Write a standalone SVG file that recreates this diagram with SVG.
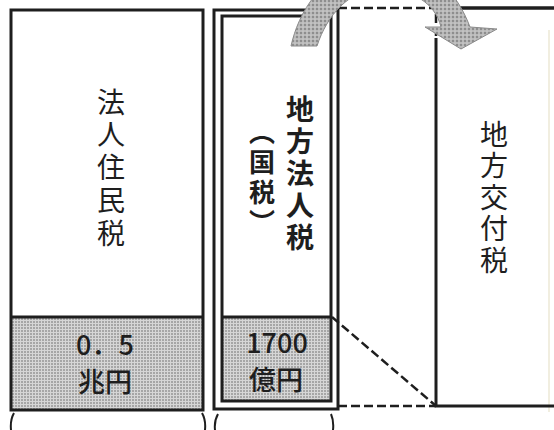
<svg xmlns="http://www.w3.org/2000/svg" width="554" height="430" viewBox="0 0 554 430">
<defs>
<pattern id="dots" width="3" height="3" patternUnits="userSpaceOnUse">
<rect width="3" height="3" fill="#d6d6d6"/>
<circle cx="1" cy="1" r="0.8" fill="#6a6a6a"/>
</pattern>
<pattern id="arrowTex" width="4" height="4" patternUnits="userSpaceOnUse">
<rect width="4" height="4" fill="#b8b8b8"/>
<circle cx="1" cy="1" r="0.9" fill="#7a7a7a"/>
<circle cx="3" cy="3" r="0.6" fill="#e4e4e4"/>
</pattern>
<style>
.box{fill:none;stroke:#1e1e1e;stroke-width:3}
.gray{fill:url(#dots);stroke:none}
.dash{fill:none;stroke:#1e1e1e;stroke-width:2.5;stroke-dasharray:9 4}
.brk{fill:none;stroke:#1e1e1e;stroke-width:2}
.t{font-family:"Noto Sans CJK JP","Noto Sans",sans-serif;font-size:28px;fill:#1e1e1e;text-anchor:middle;dominant-baseline:central}
.v{font-family:"Noto Sans CJK JP","Noto Sans",sans-serif;font-size:28px;fill:#1e1e1e;writing-mode:vertical-rl;text-anchor:start}
.b{font-weight:bold}
.g{font-size:27px;font-weight:500}
</style>
</defs>
<rect width="554" height="430" fill="#ffffff"/>
<line x1="549" y1="30" x2="549" y2="412" stroke="#ece8d6" stroke-width="1.5"/>

<g id="node-houjin-juuminzei">
<rect class="gray" x="11" y="317" width="192" height="93"/>
<line class="box" x1="11" y1="317" x2="203" y2="317"/>
<rect class="box" x="11" y="10" width="192" height="400"/>
<text class="v" x="111" y="88" style="letter-spacing:4.75px">法人住民税</text>
<text class="t g" x="105" y="343">0．5</text>
<text class="t g" x="105" y="380">兆円</text>
<path class="brk" d="M14,413 Q10,420 11,430"/>
<path class="brk" d="M202,413 Q206,420 205,430"/>
</g>

<g id="node-chihou-houjinzei">
<rect class="gray" x="222" y="317" width="109" height="84"/>
<line class="box" x1="222" y1="317" x2="331" y2="317"/>
<rect class="box" x="214" y="10" width="124" height="399"/>
<rect class="box" x="222" y="16" width="109" height="385"/>
<text class="v b" x="300" y="95" style="letter-spacing:4px">地方法人税</text>
<text class="v b" x="262" y="119" style="font-size:26px;letter-spacing:4px">（国税）</text>
<text class="t g" x="277" y="341">1700</text>
<text class="t g" x="276" y="378">億円</text>
<path class="brk" d="M218,414 Q214,421 215,430"/>
<path class="brk" d="M331,414 Q334,421 333,430"/>
</g>

<g id="node-chihou-koufuzei">
<path class="box" d="M436,38 V406 H556"/>
<path class="box" d="M436,8 H556" style="stroke-width:3.5"/>
<text class="v" x="494" y="120" style="letter-spacing:3.5px">地方交付税</text>
</g>

<g id="connectors">
<path class="dash" d="M338,8 H436 V38"/>
<path class="dash" d="M332,317 L436,406"/>
<path class="dash" d="M338,406 H436"/>
<path d="M291,46 C298,15 320,-32 380,-37 C432,-40 458,-5 470,27 L497,29 L461,49 L425,27 L441,27 C435,3 413,-11 380,-11 C350,-11 327,15 317,46 Z" fill="url(#arrowTex)" stroke="#8a8a8a" stroke-width="1"/>
</g>
</svg>
